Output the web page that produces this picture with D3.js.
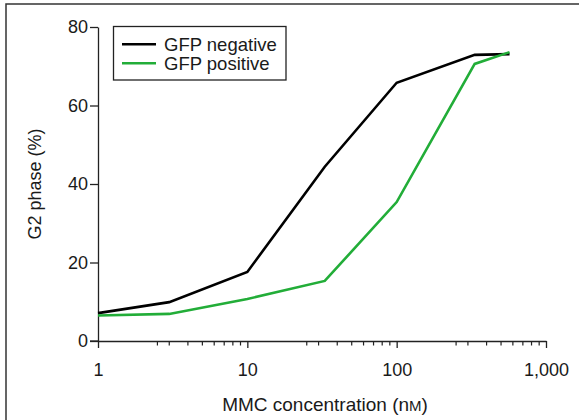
<!DOCTYPE html>
<meta charset="utf-8">
<style>
  body { margin: 0; background: #fff; }
  svg text { font-family: "Liberation Sans", Arial, sans-serif; fill: #1a1a1a; }
</style>
<body>
<div id="chart"></div>
<script src="https://d3js.org/d3.v7.min.js"></script>
<script>
// MMC concentration (nM) and G2 phase (%)
const concentrations = [1, 3, 10, 33, 100, 333, 570];
const gfpNegative = [7.1, 9.9, 17.6, 44.4, 65.8, 72.9, 73.1];
const gfpPositive = [6.5, 6.9, 10.7, 15.3, 35.4, 70.6, 73.6];
const seriesNames = ["GFP negative", "GFP positive"];
const seriesColors = ["#000000", "#22ad38"];
const xTickLabels = ["1", "10", "100", "1,000"];
const xMajorTicks = [1, 10, 100, 1000];
const minorSteps = [2.5, 3, 4, 5, 6, 7, 8, 9];
const yTicks = [0, 20, 40, 60, 80];

const width = 579, height = 420;

const svg = d3.select("#chart").append("svg")
    .attr("width", width)
    .attr("height", height);

// outer frame (runs off the right and bottom)
svg.append("rect")
    .attr("x", 6).attr("y", 4)
    .attr("width", 700).attr("height", 600)
    .attr("fill", "none")
    .attr("stroke", "#333")
    .attr("stroke-width", 1.5);

const x = d3.scaleLog().domain([1, 1000]).range([98, 546]);
const y = d3.scaleLinear().domain([0, 80]).range([341, 27]);

// y axis
const yAxis = svg.append("g")
    .attr("transform", `translate(${x(1)},0)`)
    .call(d3.axisLeft(y).tickValues(yTicks).tickSize(8).tickPadding(2).tickSizeOuter(0));
yAxis.select(".domain").attr("stroke", "#222").attr("stroke-width", 1.3);
yAxis.selectAll(".tick line").attr("stroke", "#222").attr("stroke-width", 1.3);
yAxis.selectAll("text").style("font-size", "18px").attr("fill", "#1a1a1a");

// x axis (major ticks go down)
const xAxis = svg.append("g")
    .attr("transform", `translate(0,${y(0)})`)
    .call(d3.axisBottom(x).tickValues(xMajorTicks)
        .tickFormat((d, i) => xTickLabels[i])
        .tickSize(7).tickPadding(15).tickSizeOuter(0));
xAxis.select(".domain").attr("stroke", "#222").attr("stroke-width", 1.3);
xAxis.selectAll(".tick line").attr("stroke", "#222").attr("stroke-width", 1.3);
xAxis.selectAll("text").style("font-size", "18px").attr("fill", "#1a1a1a");

// extend the x axis line to the left past the y axis like the reference
svg.append("line")
    .attr("x1", x(1) - 8).attr("x2", x(1))
    .attr("y1", y(0)).attr("y2", y(0))
    .attr("stroke", "#222").attr("stroke-width", 1.3);

// minor ticks
const minor = [];
[1, 10, 100].forEach(dec => minorSteps.forEach(s => minor.push(dec * s)));
svg.append("g").selectAll("line")
    .data(minor)
    .join("line")
    .attr("x1", d => x(d)).attr("x2", d => x(d))
    .attr("y1", y(0)).attr("y2", y(0) + 4.5)
    .attr("stroke", "#222").attr("stroke-width", 1.2);

// axis titles
const xTitle = svg.append("text")
    .attr("x", 325).attr("y", 411)
    .attr("text-anchor", "middle")
    .style("font-size", "19px");
xTitle.append("tspan").text("MMC concentration (n");
xTitle.append("tspan").style("font-size", "15px").text("M");
xTitle.append("tspan").text(")");

svg.append("text")
    .attr("transform", `translate(41,184) rotate(-90)`)
    .attr("text-anchor", "middle")
    .style("font-size", "18px")
    .text("G2 phase (%)");

// lines
const series = [gfpNegative, gfpPositive];
const line = d3.line()
    .x((d, i) => x(concentrations[i]))
    .y(d => y(d));

svg.append("g").selectAll("path")
    .data(series)
    .join("path")
    .attr("d", d => line(d))
    .attr("fill", "none")
    .attr("stroke", (d, i) => seriesColors[i])
    .attr("stroke-width", 2.6)
    .attr("stroke-linejoin", "miter");

// legend
const legend = svg.append("g");
legend.append("rect")
    .attr("x", 113.5).attr("y", 26.5)
    .attr("width", 172.5).attr("height", 53.5)
    .attr("fill", "#fff")
    .attr("stroke", "#222")
    .attr("stroke-width", 1.3);
const items = legend.selectAll("g.item")
    .data(seriesNames)
    .join("g")
    .attr("class", "item")
    .attr("transform", (d, i) => `translate(0,${44.3 + i * 19})`);
items.append("line")
    .attr("x1", 122).attr("x2", 156)
    .attr("stroke", (d, i) => seriesColors[i])
    .attr("stroke-width", 2.6);
items.append("text")
    .attr("x", 164).attr("y", 6.5)
    .style("font-size", "18.5px")
    .text(d => d);
</script>
</body>
